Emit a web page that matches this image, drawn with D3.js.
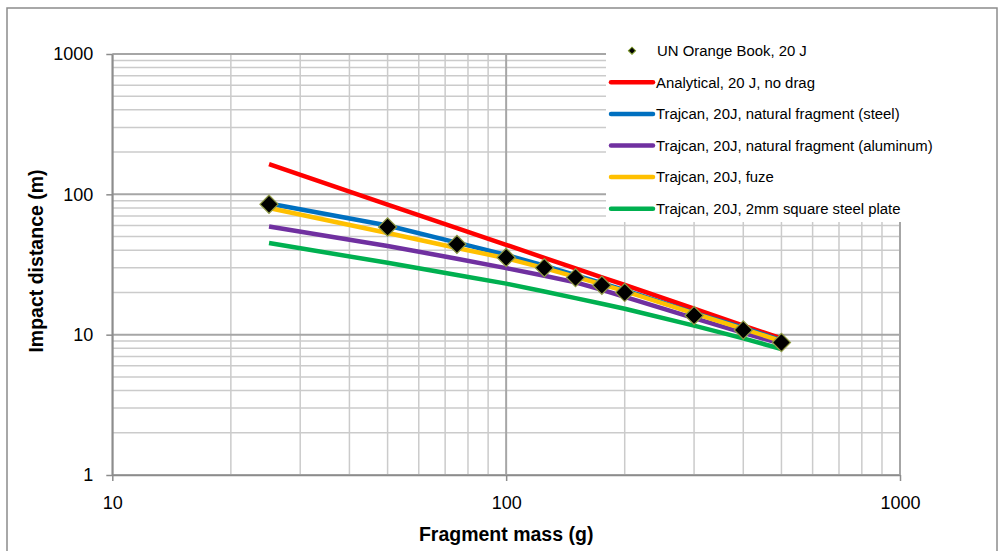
<!DOCTYPE html>
<html>
<head>
<meta charset="utf-8">
<script src="https://cdn.jsdelivr.net/npm/d3@7"></script>
<style>
  body { margin: 0; background: #fff; }
  text { font-family: "Liberation Sans", Arial, sans-serif; fill: #000; }
</style>
</head>
<body>
<div id="chart"></div>
<script>
// fragment mass (g) and impact distance (m)
const masses     = [25, 50, 75, 100, 125, 150, 175, 200, 300, 400, 500];
const orangeBook = [85, 58.5, 44, 35.5, 30, 25.5, 22.5, 20, 13.7, 10.8, 8.8];
const analytical = [164, 84.6, 57.5, 43.7, 35.3, 29.7, 25.6, 22.6, 15.3, 11.6, 9.4];
const steel      = [86, 60, 45.3, 37, 31, 26.5, 23.3, 20.8, 14.3, 11.2, 9.1];
const aluminum   = [59, 42.8, 34.8, 29.8, 26.3, 23.6, 20.9, 18.6, 13.1, 10.3, 8.6];
const fuze       = [80, 53, 41.5, 35, 29.8, 25.8, 22.8, 20.4, 14.2, 11.0, 9.0];
const plate      = [45, 32.5, 26.6, 23.1, 20.3, 18.2, 16.6, 15.3, 11.6, 9.4, 7.9];

const xTicks = [10, 100, 1000];
const yTicks = [1, 10, 100, 1000];

const seriesNames = [
  "UN Orange Book, 20 J",
  "Analytical, 20 J, no drag",
  "Trajcan, 20J, natural fragment (steel)",
  "Trajcan, 20J, natural fragment (aluminum)",
  "Trajcan, 20J, fuze",
  "Trajcan, 20J, 2mm square steel plate"
];

const lineSeries = [
  { name: seriesNames[1], values: analytical, color: "#ff0000" },
  { name: seriesNames[2], values: steel,      color: "#0070c0" },
  { name: seriesNames[3], values: aluminum,   color: "#7030a0" },
  { name: seriesNames[4], values: fuze,       color: "#ffc000" },
  { name: seriesNames[5], values: plate,      color: "#00b050" }
];

const W = 1002, H = 551;
const svg = d3.select("#chart").append("svg")
  .attr("width", W).attr("height", H);

// outer chart frame
svg.append("rect")
  .attr("x", 7).attr("y", 8).attr("width", 990).attr("height", 560)
  .attr("fill", "#fff").attr("stroke", "#8c8c8c").attr("stroke-width", 1.5);

const x = d3.scaleLog().domain([10, 1000]).range([112.3, 900]);
const y = d3.scaleLog().domain([1, 1000]).range([475, 54]);

const isMajor = v => Math.abs(Math.log10(v) - Math.round(Math.log10(v))) < 1e-9;

// gridlines (minor first, major on top)
const grid = svg.append("g");
const xs = x.ticks(), ys = y.ticks();
[false, true].forEach(major => {
  grid.selectAll(null)
    .data(xs.filter(v => isMajor(v) === major))
    .enter().append("line")
    .attr("x1", d => x(d)).attr("x2", d => x(d))
    .attr("y1", y(1)).attr("y2", y(1000))
    .attr("stroke", major ? "#a6a6a6" : "#cbcbcb")
    .attr("stroke-width", major ? 2 : 1.5);
  grid.selectAll(null)
    .data(ys.filter(v => isMajor(v) === major))
    .enter().append("line")
    .attr("x1", x(10)).attr("x2", x(1000))
    .attr("y1", d => y(d)).attr("y2", d => y(d))
    .attr("stroke", major ? "#a6a6a6" : "#cbcbcb")
    .attr("stroke-width", major ? 2 : 1.5);
});

// axes
const yAxis = svg.append("g")
  .attr("transform", `translate(${x(10)},0)`)
  .call(d3.axisLeft(y).tickValues(yTicks).tickFormat(d3.format("d"))
    .tickSize(6).tickSizeOuter(0).tickPadding(13));
const xAxis = svg.append("g")
  .attr("transform", `translate(0,${y(1)})`)
  .call(d3.axisBottom(x).tickValues(xTicks).tickFormat(d3.format("d"))
    .tickSize(6).tickSizeOuter(0).tickPadding(15));
[yAxis, xAxis].forEach(a => {
  a.select(".domain").attr("stroke", "#8c8c8c").attr("stroke-width", 1.5);
  a.selectAll(".tick line").attr("stroke", "#8c8c8c").attr("stroke-width", 1.5);
  a.selectAll(".tick text").attr("font-size", 18).attr("fill", "#000")
    .style("font-family", "'Liberation Sans', Arial, sans-serif");
});

// axis titles
svg.append("text")
  .attr("x", (x(10) + x(1000)) / 2).attr("y", 541)
  .attr("text-anchor", "middle")
  .attr("font-size", 19.5).attr("font-weight", "bold")
  .text("Fragment mass (g)");
svg.append("text")
  .attr("transform", `translate(43,261) rotate(-90)`)
  .attr("text-anchor", "middle")
  .attr("font-size", 19.5).attr("font-weight", "bold")
  .text("Impact distance (m)");

// lines
const line = d3.line()
  .x((d, i) => x(masses[i]))
  .y(d => y(d));

svg.append("g").selectAll("path")
  .data(lineSeries)
  .enter().append("path")
  .attr("d", d => line(d.values))
  .attr("fill", "none")
  .attr("stroke", d => d.color)
  .attr("stroke-width", 4.5)
  .attr("stroke-linejoin", "round");

// markers: black diamonds with olive outline
const diamond = d3.symbol().type(d3.symbolSquare).size(165);
svg.append("g").selectAll("path")
  .data(orangeBook)
  .enter().append("path")
  .attr("d", diamond)
  .attr("transform", (d, i) => `translate(${x(masses[i])},${y(d)}) rotate(45)`)
  .attr("fill", "#000")
  .attr("stroke", "#8f9a45")
  .attr("stroke-width", 1.2);

// legend (white box over the plot's top-right corner)
const legend = svg.append("g");
legend.append("rect")
  .attr("x", 606).attr("y", 29).attr("width", 342).attr("height", 193)
  .attr("fill", "#fff");
const ly0 = 50.7, lstep = 31.6;
const legendRows = [{ name: seriesNames[0], marker: true }].concat(lineSeries);
const rows = legend.selectAll("g.row")
  .data(legendRows)
  .enter().append("g")
  .attr("class", "row")
  .attr("transform", (d, i) => `translate(0,${ly0 + i * lstep})`);
rows.filter(d => d.marker).append("path")
  .attr("d", d3.symbol().type(d3.symbolSquare).size(26))
  .attr("transform", "translate(632,0) rotate(45)")
  .attr("fill", "#000").attr("stroke", "#7d9a2a").attr("stroke-width", 1);
rows.filter(d => !d.marker).append("line")
  .attr("x1", 611).attr("x2", 653)
  .attr("stroke", d => d.color).attr("stroke-width", 4.5)
  .attr("stroke-linecap", "round");
rows.append("text")
  .attr("x", d => d.marker ? 657 : 656).attr("dy", "0.35em")
  .attr("font-size", 14.9)
  .text(d => d.name);
</script>
</body>
</html>
